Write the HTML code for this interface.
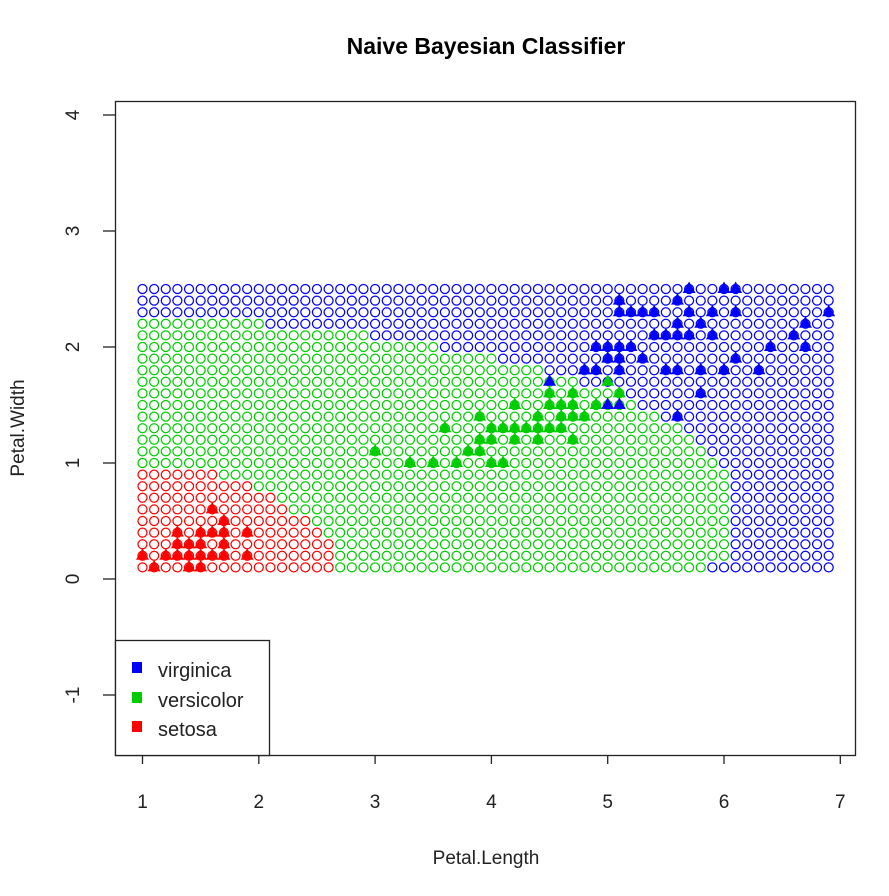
<!DOCTYPE html>
<html><head><meta charset="utf-8"><style>
html,body{margin:0;padding:0;background:#fff;}
svg text{font-family:"Liberation Sans",Arial,sans-serif;}
</style></head><body>
<svg id="chart" width="889" height="891" xmlns="http://www.w3.org/2000/svg">
<rect width="889" height="891" fill="#fff"/>
<text x="486" y="54" text-anchor="middle" font-size="23" font-weight="bold" fill="#000">Naive Bayesian Classifier</text>
<g id="grid"></g>
<g id="pts"></g>
<rect x="115.5" y="101.5" width="740" height="654" fill="none" stroke="#222" stroke-width="1.3"/>
<g id="axes"></g>
<text x="486" y="864" text-anchor="middle" font-size="19" fill="#222">Petal.Length</text>
<text transform="translate(24,428) rotate(-90)" text-anchor="middle" font-size="19" fill="#222">Petal.Width</text>
<g>
<rect x="115.5" y="640.5" width="154" height="115" fill="#fff" stroke="#222" stroke-width="1.3"/>
<rect x="132" y="662" width="10" height="11" fill="#0000ff"/>
<text x="158" y="677" font-size="20" fill="#222">virginica</text>
<rect x="132" y="692" width="10" height="11" fill="#00cd00"/>
<text x="158" y="707" font-size="20" fill="#222">versicolor</text>
<rect x="132" y="721" width="10" height="11" fill="#ff0000"/>
<text x="158" y="736" font-size="20" fill="#222">setosa</text>
</g>
</svg>
<script>
const xTicks=[1,2,3,4,5,6,7];
const yTicks=[-1,0,1,2,3,4];
const gridRows=[0.1,0.2,0.3,0.4,0.5,0.6,0.7,0.8,0.9,1.0,1.1,1.2,1.3,1.4,1.5,1.6,1.7,1.8,1.9,2.0,2.1,2.2,2.3,2.4,2.5];
const setosaMax=[2.6,2.6,2.6,2.5,2.4,2.2,2.1,1.9,1.6,null,null,null,null,null,null,null,null,null,null,null,null,null,null,null,null];
const virgMin=[5.9,6.1,6.1,6.1,6.1,6.1,6.1,6.1,6.1,6.0,5.9,5.8,5.7,5.5,5.3,5.2,4.8,4.5,4.1,3.6,3.0,2.1,1.0,1.0,1.0];
const setosaPts=[[1.4,0.2],[1.3,0.2],[1.5,0.2],[1.7,0.4],[1.4,0.3],[1.5,0.1],[1.6,0.2],[1.4,0.1],[1.1,0.1],[1.2,0.2],[1.5,0.4],[1.3,0.4],[1.7,0.3],[1.5,0.3],[1.7,0.2],[1.0,0.2],[1.7,0.5],[1.9,0.2],[1.6,0.4],[1.3,0.3],[1.6,0.6],[1.9,0.4]];
const versiPts=[[4.7,1.4],[4.5,1.5],[4.9,1.5],[4.0,1.3],[4.6,1.5],[4.5,1.3],[4.7,1.6],[3.3,1.0],[4.6,1.3],[3.9,1.4],[3.5,1.0],[4.2,1.5],[4.0,1.0],[3.6,1.3],[4.4,1.4],[4.1,1.0],[3.9,1.1],[4.8,1.8],[4.7,1.2],[4.3,1.3],[4.8,1.4],[5.0,1.7],[3.8,1.1],[3.7,1.0],[3.9,1.2],[5.1,1.6],[4.5,1.6],[4.7,1.5],[4.4,1.3],[4.1,1.3],[4.4,1.2],[4.6,1.4],[4.0,1.2],[4.2,1.3],[4.2,1.2],[3.0,1.1]];
const virgPts=[[6.0,2.5],[5.1,1.9],[5.9,2.1],[5.6,1.8],[5.8,2.2],[6.6,2.1],[4.5,1.7],[6.3,1.8],[5.8,1.8],[6.1,2.5],[5.1,2.0],[5.3,1.9],[5.5,2.1],[5.0,2.0],[5.1,2.4],[5.3,2.3],[5.5,1.8],[6.7,2.2],[6.9,2.3],[5.0,1.5],[5.7,2.3],[4.9,2.0],[6.7,2.0],[4.9,1.8],[5.7,2.1],[6.0,1.8],[4.8,1.8],[5.6,2.1],[5.8,1.6],[6.1,1.9],[6.4,2.0],[5.6,2.2],[5.1,1.5],[5.6,1.4],[6.1,2.3],[5.6,2.4],[5.4,2.1],[5.1,2.3],[5.9,2.3],[5.7,2.5],[5.2,2.3],[5.0,1.9],[5.2,2.0],[5.4,2.3],[5.1,1.8]];
const NS="http://www.w3.org/2000/svg";
const X=v=>142.5+116.3*(v-1);
const Y=v=>579-116*v;
const RED="#ff0000",GREEN="#00cd00",BLUE="#0000ff";
function mk(t,a,p){const e=document.createElementNS(NS,t);for(const k in a)e.setAttribute(k,a[k]);p.appendChild(e);return e;}
const grid=document.getElementById('grid');
gridRows.forEach((yv,i)=>{
  for(let c=0;c<60;c++){
    const xv=Math.round((1+c*0.1)*10)/10;
    let col=GREEN;
    if(setosaMax[i]!==null&&xv<=setosaMax[i]+1e-9)col=RED;
    else if(xv>=virgMin[i]-1e-9)col=BLUE;
    const e=mk('circle',{cx:X(xv),cy:Y(yv),r:4.5,fill:'none',stroke:col,'stroke-width':1.25},grid);
    
    
  }
});
const pts=document.getElementById('pts');
function tri(p,col,name){
  const x=X(p[0]),y=Y(p[1]);
  const e=mk('polygon',{points:`${x},${y-7.5} ${x-6.5},${y+4} ${x+6.5},${y+4}`,fill:col},pts);
  
  
}
setosaPts.forEach(p=>tri(p,RED,'setosa-point'));
versiPts.forEach(p=>tri(p,GREEN,'versicolor-point'));
virgPts.forEach(p=>tri(p,BLUE,'virginica-point'));
const ax=document.getElementById('axes');
xTicks.forEach(t=>{
  const l=mk('line',{x1:X(t),x2:X(t),y1:755.5,y2:764,stroke:'#222','stroke-width':1.3},ax);
  
  
  const tx=mk('text',{x:X(t),y:808,'text-anchor':'middle','font-size':19,fill:'#222'},ax);
  tx.textContent=t;
  
  
});
yTicks.forEach(t=>{
  const l=mk('line',{x1:103,x2:115.5,y1:Y(t),y2:Y(t),stroke:'#222','stroke-width':1.3},ax);
  
  
  const tx=mk('text',{transform:`translate(79,${Y(t)}) rotate(-90)`,'text-anchor':'middle','font-size':19,fill:'#222'},ax);
  tx.textContent=t;
  
  
});
</script>
</body></html>
